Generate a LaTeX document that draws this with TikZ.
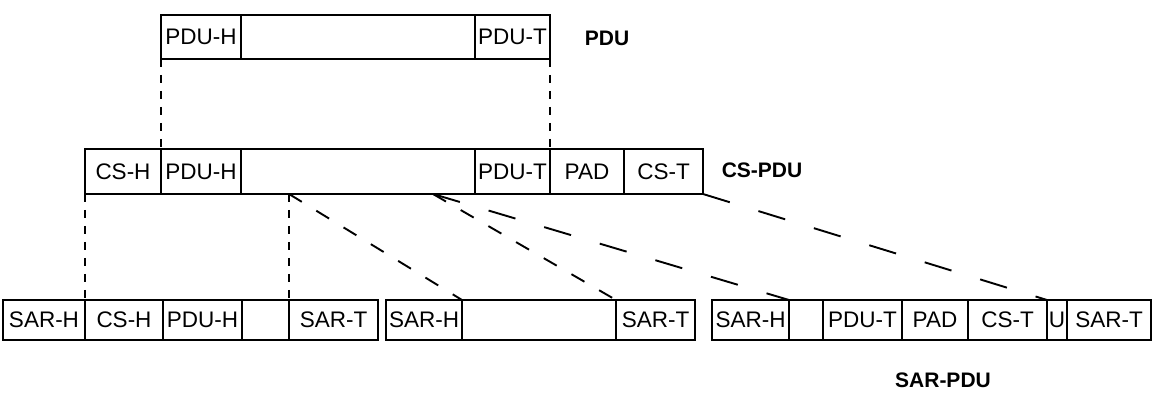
\documentclass[tikz,border=0pt]{standalone}
\usepackage{fontspec}
\setmainfont{Liberation Sans}
\begin{document}
\begin{tikzpicture}[x=1pt,y=-1pt,
  cell/.style={draw, line width=1.9pt, inner sep=0pt, outer sep=0pt,
    font=\fontsize{22.5}{22.5}\selectfont},
  lbl/.style={font=\bfseries\fontsize{21}{21}\selectfont, inner sep=0pt},
  vdash/.style={line width=1.9pt, dash pattern=on 8pt off 8pt},
  ddashA/.style={line width=1.9pt, dash pattern=on 15pt off 17pt},
  ddashB/.style={line width=1.9pt, dash pattern=on 28pt off 30pt}]
\useasboundingbox (0,0) rectangle (1163,395);
\newcommand{\cel}[6]{\node[cell, minimum width={(#3-#2)*1pt}, minimum height={(#5-#4)*1pt}, anchor=north west] (#1) at (#2,#4) {#6};}
% row 1: PDU
\cel{r1h}{161}{241}{15}{59}{PDU-H}
\cel{r1e}{241}{475}{15}{59}{}
\cel{r1t}{475}{550}{15}{59}{PDU-T}
\node[lbl] (lpdu) at (607,38) {PDU};
% row 2: CS-PDU
\cel{r2c}{85}{161}{149}{194}{CS-H}
\cel{r2h}{161}{241}{149}{194}{PDU-H}
\cel{r2e}{241}{475}{149}{194}{}
\cel{r2t}{475}{550}{149}{194}{PDU-T}
\cel{r2p}{550}{624}{149}{194}{PAD}
\cel{r2s}{624}{703}{149}{194}{CS-T}
\node[lbl] (lcs) at (762,170) {CS-PDU};
% row 3: SAR-PDUs
\cel{a1}{3}{85}{300}{340}{SAR-H}
\cel{a2}{85}{163}{300}{340}{CS-H}
\cel{a3}{163}{242}{300}{340}{PDU-H}
\cel{a4}{242}{289}{300}{340}{}
\cel{a5}{289}{378}{300}{340}{SAR-T}
\cel{b1}{386}{462}{300}{340}{SAR-H}
\cel{b2}{462}{616}{300}{340}{}
\cel{b3}{616}{695}{300}{340}{SAR-T}
\cel{c1}{712}{789}{300}{340}{SAR-H}
\cel{c2}{789}{823}{300}{340}{}
\cel{c3}{823}{902}{300}{340}{PDU-T}
\cel{c4}{902}{968}{300}{340}{PAD}
\cel{c5}{968}{1047}{300}{340}{CS-T}
\cel{c6}{1047}{1067}{300}{340}{U}
\cel{c7}{1067}{1151}{300}{340}{SAR-T}
\node[lbl] (lsar) at (943,380) {SAR-PDU};
% connectors
\draw[vdash] (r1h.south west) -- (r2h.north west);
\draw[vdash] (r1t.south east) -- (r2t.north east);
\draw[vdash] (r2c.south west) -- (a1.north east);
\coordinate (p1) at (a5.north west |- r2e.south);
\draw[vdash] (p1) -- (a5.north west);
\draw[ddashA] (p1) -- (b1.north east);
\coordinate (p2) at (433,194);
\draw[ddashA] (p2) -- (b2.north east);
\draw[ddashB] (p2) -- (c1.north east);
\draw[ddashB] (r2s.south east) -- (c5.north east);
\end{tikzpicture}
\end{document}
